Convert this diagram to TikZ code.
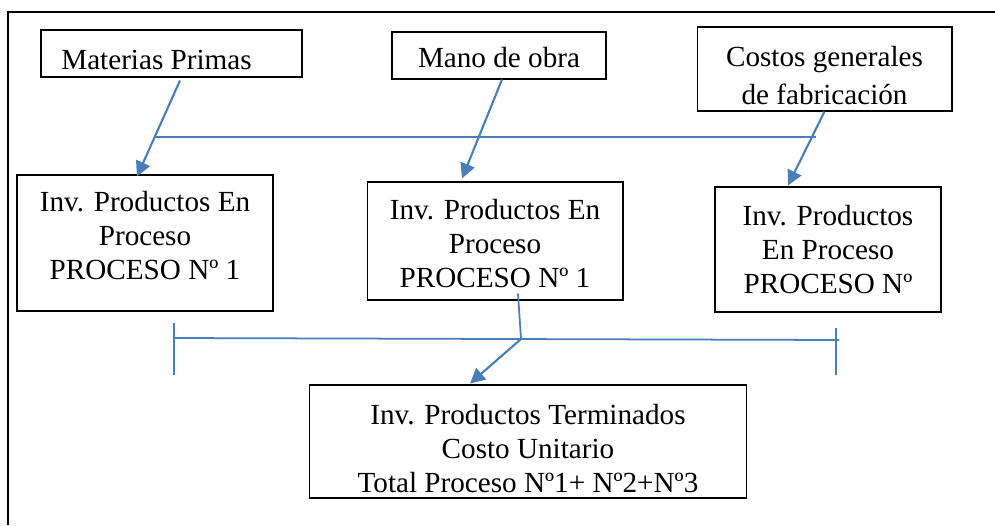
\documentclass[tikz,border=0pt]{standalone}
\usepackage{fontspec}
\setmainfont{Liberation Serif}
\usepackage{tikz}
\usetikzlibrary{arrows.meta}
\definecolor{azul}{RGB}{74,126,187}
\newcommand{\bajar}[2]{\raisebox{#1}[\height][\depth]{#2}}
\tikzset{
  caja/.style={shape=rectangle,draw=black,line width=0.6pt,align=center,inner sep=0pt,
    font=\fontsize{16.6}{19.3}\selectfont},
  flecha/.style={draw=azul,line width=1.2pt,-{Triangle[length=8.5pt,width=8.5pt]}},
  linea/.style={draw=azul,line width=1pt}
}

\begin{document}
\begin{tikzpicture}[x=0.02cm,y=-0.02cm]
\useasboundingbox (0,0) rectangle (995,525);
\draw[line width=0.6pt] (995,12) -- (8,12) -- (8,525);
\node[caja,minimum width=5.22cm,minimum height=0.94cm] (mp) at (171.5,53.5) {\hspace*{-0.6cm}\bajar{-3.5pt}{Materias Primas}};
\node[caja,minimum width=4.28cm,minimum height=0.94cm] (mo) at (499,55.5) {\bajar{-1pt}{Mano de obra}};
\node[caja,minimum width=5.1cm,minimum height=1.68cm] (cgf) at (824.5,69) {\bajar{-5.5pt}{\begin{tabular}{@{}c@{}}Costos generales\\[2.3pt]de fabricación\end{tabular}}};
\node[caja,minimum width=5.12cm,minimum height=2.72cm] (ip1) at (145,243) {\bajar{2.3pt}{\begin{tabular}{@{}c@{}}Inv. Productos En\\Proceso\\PROCESO Nº 1\end{tabular}}};
\node[caja,minimum width=5.12cm,minimum height=2.36cm] (ip2) at (495,241) {\bajar{-3.2pt}{\begin{tabular}{@{}c@{}}Inv. Productos En\\Proceso\\PROCESO Nº 1\end{tabular}}};
\node[caja,minimum width=4.52cm,minimum height=2.5cm] (ip3) at (828,249.5) {Inv. Productos\\En Proceso\\PROCESO Nº};
\node[caja,minimum width=8.76cm,minimum height=2.26cm] (ipt) at (528,441.5) {\bajar{-5.7pt}{\begin{tabular}{@{}c@{}}Inv. Productos Terminados\\Costo Unitario\\Total Proceso Nº1+ Nº2+Nº3\end{tabular}}};
\coordinate (h1) at (155,137);
\coordinate (h2) at (816,137);
\coordinate (nudo) at (521,339);
\coordinate (b1) at (174,338);
\coordinate (b2) at (839,340);
\coordinate (t1a) at (174,323);
\coordinate (t1b) at (174,375);
\coordinate (t2a) at (836,328);
\coordinate (t2b) at (836,375);
\draw[linea] (h1) -- (h2);
\draw[flecha] ([xshift=0.17cm,yshift=-0.06cm]mp.south) -- ([xshift=-0.16cm,yshift=-0.04cm]ip1.north);
\draw[flecha] ([xshift=0.06cm]mo.south) -- ([xshift=-0.66cm,yshift=0.06cm]ip2.north);
\draw[flecha] (cgf.south) -- ([xshift=-0.8cm,yshift=0.02cm]ip3.north);
\draw[linea] ([xshift=0.46cm,yshift=0.14cm]ip2.south) -- (nudo);
\draw[linea] (b1) -- (b2);
\draw[linea] (t1a) -- (t1b);
\draw[linea] (t2a) -- (t2b);
\draw[flecha] (nudo) -- ([xshift=-1.16cm,yshift=0.02cm]ipt.north);
\end{tikzpicture}
\end{document}
